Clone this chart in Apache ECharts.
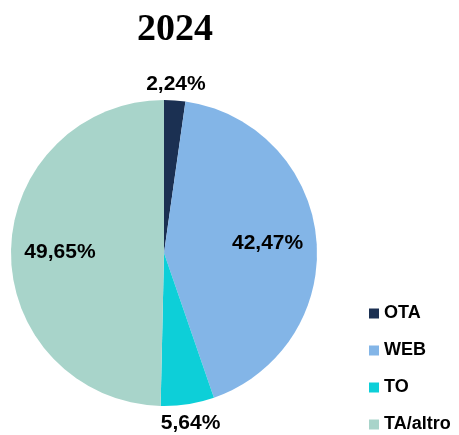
<!DOCTYPE html>
<html>
<head>
<meta charset="utf-8">
<script src="https://cdn.jsdelivr.net/npm/echarts@6/dist/echarts.min.js"></script>
<style>
  html, body { margin: 0; padding: 0; background: #fff; }
  #chart { width: 459px; height: 435px; }
</style>
</head>
<body>
<div id="chart"></div>
<script>
const titleText = "2024";
const channels = ["OTA", "WEB", "TO", "TA/altro"];
const shares = [2.24, 42.47, 5.64, 49.65];
const colors = ["#1b3052", "#83b5e7", "#0dcfd8", "#a8d4ca"];

// pie geometry
const cx = 164, cy = 253, radius = 153;

const chart = echarts.init(document.getElementById("chart"));

// labels: big slices sit at ~2/3 of the radius, small ones just outside the rim
const placeLabel = (params) => {
  const r = params.labelRect;
  const lx = r.x + r.width / 2;
  const ly = r.y + r.height / 2;
  const dx = lx - cx, dy = ly - cy;
  const len = Math.sqrt(dx * dx + dy * dy) || 1;
  const share = shares[params.dataIndex];
  const dist = share > 10
    ? radius * 0.68
    : radius + 4 + r.height / 2 + Math.abs(dx / len) * r.width / 2;
  return {
    x: cx + dx / len * dist,
    y: cy + dy / len * dist,
    align: "center",
    verticalAlign: "middle"
  };
};

chart.setOption({
  animation: false,
  color: colors,
  title: {
    text: titleText,
    left: 170,
    top: 25,
    textAlign: "center",
    textVerticalAlign: "middle",
    textStyle: {
      fontFamily: "Liberation Serif",
      fontWeight: "bold",
      fontSize: 38,
      color: "#000"
    }
  },
  legend: {
    orient: "vertical",
    left: 369,
    top: 304,
    height: 131,
    icon: "rect",
    itemWidth: 10,
    itemHeight: 10,
    itemGap: 18,
    padding: 0,
    data: channels,
    textStyle: {
      fontFamily: "Liberation Sans",
      fontWeight: "bold",
      fontSize: 18,
      lineHeight: 19,
      color: "#000"
    }
  },
  series: [
    {
      type: "pie",
      center: [cx, cy],
      radius: [0, radius],
      startAngle: 90,
      clockwise: true,
      silent: true,
      label: {
        show: true,
        position: "inside",
        fontFamily: "Liberation Sans",
        fontWeight: "bold",
        fontSize: 21,
        color: "#000",
        formatter: (p) => p.value.toFixed(2).replace(".", ",") + "%"
      },
      labelLine: { show: false },
      labelLayout: placeLabel,
      data: channels.map((name, i) => ({ name: name, value: shares[i] }))
    }
  ]
});
</script>
</body>
</html>
